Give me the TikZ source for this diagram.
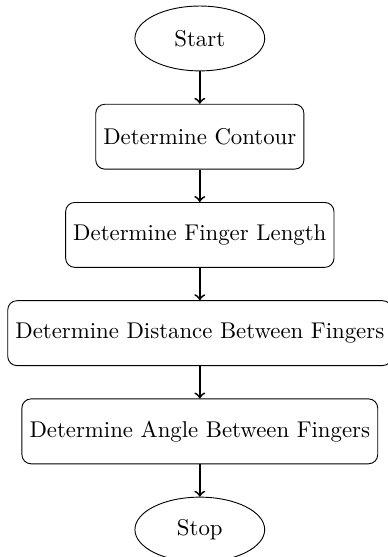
\documentclass[tikz,border=0pt]{standalone}
\usetikzlibrary{shapes.geometric,positioning}
\begin{document}
\begin{tikzpicture}[
  node distance=0.5cm,
  terminal/.style={ellipse, draw, minimum width=2cm, minimum height=1cm, align=center},
  process/.style={rectangle, rounded corners, draw, minimum height=1cm, align=center},
  flow/.style={->, thick}
]
\useasboundingbox (-3.08,0.593) rectangle (2.897,-7.993);
\node[terminal] (start) at (0,0) {Start};
\node[process, below=of start] (contour) {Determine Contour};
\node[process, below=of contour] (length) {Determine Finger Length};
\node[process, below=of length] (distance) {Determine Distance Between Fingers};
\node[process, below=of distance] (angle) {Determine Angle Between Fingers};
\node[terminal, below=of angle] (stop) {Stop};
\draw[flow] (start) -- (contour);
\draw[flow] (contour) -- (length);
\draw[flow] (length) -- (distance);
\draw[flow] (distance) -- (angle);
\draw[flow] (angle) -- (stop);
\end{tikzpicture}
\end{document}
